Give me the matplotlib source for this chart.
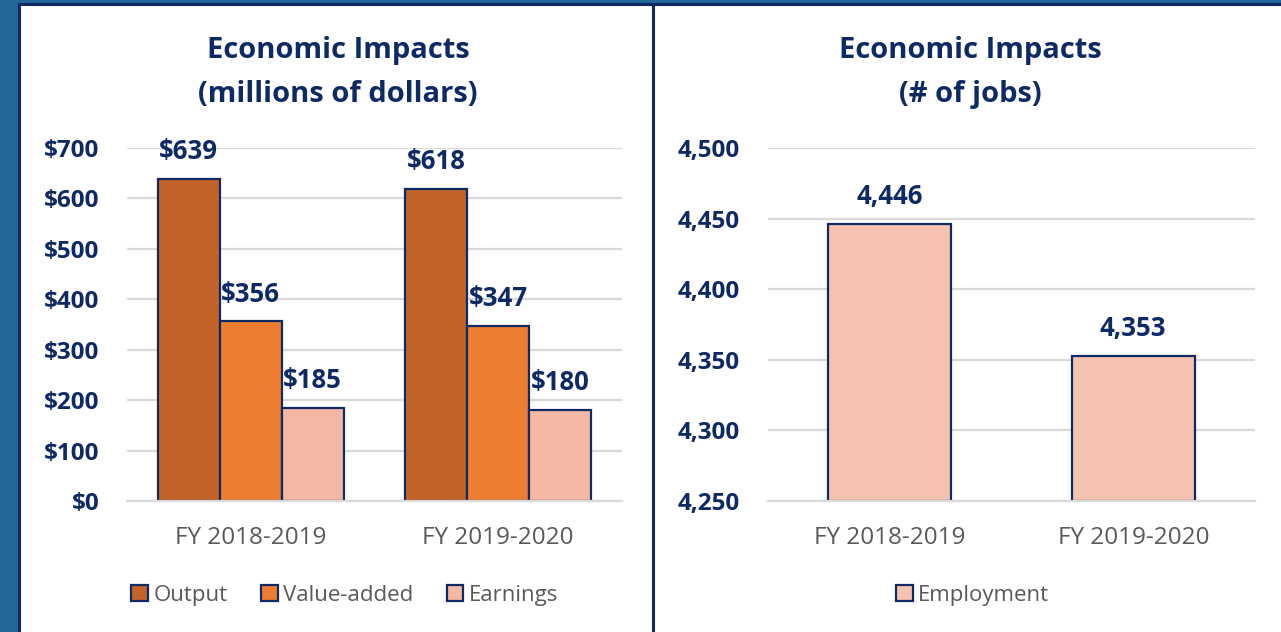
import numpy as np
import matplotlib.pyplot as plt
from matplotlib.patches import Rectangle
from matplotlib.lines import Line2D

plt.rcParams['font.family'] = ['Open Sans', 'DejaVu Sans']

# ---- data ----
years = ['FY 2018-2019', 'FY 2019-2020']
output = [639, 618]
value_added = [356, 347]
earnings = [185, 180]
employment = [4446, 4353]

navy = '#0E2A64'
grid_gray = '#D9D9D9'
text_gray = '#595959'
c_output = '#C3632A'
c_value = '#ED7D31'
c_earn = '#F4B7A3'
c_emp = '#F5C2B0'

W, H = 1281, 632
fig = plt.figure(figsize=(W / 100, H / 100), dpi=100)
fig.patch.set_facecolor('#22679A')

# white panels with navy frame
fig.patches.append(Rectangle((19 / W, 0), 1 - 19 / W, 1 - 4 / H, transform=fig.transFigure,
                             facecolor='white', edgecolor='none', zorder=-10))
for xs, ys in [([19 / W, 1], [1 - 4 / H, 1 - 4 / H]),
               ([19 / W, 19 / W], [0, 1 - 4 / H]),
               ([653 / W, 653 / W], [0, 1 - 4 / H])]:
    fig.lines.append(Line2D(xs, ys, transform=fig.transFigure, color=navy, lw=2.2, zorder=-5))


def style_axis(ax):
    ax.set_zorder(1)
    ax.patch.set_alpha(0)
    for s in ['top', 'right', 'left']:
        ax.spines[s].set_visible(False)
    ax.spines['bottom'].set_color(grid_gray)
    ax.spines['bottom'].set_linewidth(1.6)
    ax.grid(axis='y', color=grid_gray, lw=1.6)
    ax.set_axisbelow(True)
    ax.tick_params(axis='both', length=0)
    ax.tick_params(axis='y', labelsize=17.5, labelcolor=navy, pad=20)
    ax.tick_params(axis='x', labelsize=17.5, labelcolor=text_gray, pad=18)
    for lab in ax.get_yticklabels():
        lab.set_fontweight('bold')
    ax.set_xlim(-0.5, 1.5)
    ax.set_xticks(range(len(years)))
    ax.set_xticklabels(years)


def label_bars(ax, bars, fmt):
    for b in bars:
        h = b.get_height() + b.get_y()
        ax.annotate(fmt(h), (b.get_x() + b.get_width() / 2, h),
                    xytext=(0, 10), textcoords='offset points', ha='center', va='bottom',
                    fontsize=18.5, fontweight='bold', color=navy)


legend_kw = dict(loc='center', frameon=False, fontsize=16, labelcolor=text_gray,
                 handlelength=0.75, handleheight=0.75, handletextpad=0.25)

# ====================== LEFT: dollars ======================
ax1 = fig.add_axes([127 / W, 1 - 501 / H, 495 / W, 353 / H])
x = np.arange(len(years))
w = 0.25
b1 = ax1.bar(x - w, output, w, color=c_output, edgecolor=navy, lw=1.6, label='Output')
b2 = ax1.bar(x, value_added, w, color=c_value, edgecolor=navy, lw=1.6, label='Value-added')
b3 = ax1.bar(x + w, earnings, w, color=c_earn, edgecolor=navy, lw=1.6, label='Earnings')
ax1.set_ylim(0, 700)
ax1.set_yticks(range(0, 701, 100))
ax1.set_yticklabels([f'${v}' for v in range(0, 701, 100)])
style_axis(ax1)
for bars in (b1, b2, b3):
    label_bars(ax1, bars, lambda v: f'${v:.0f}')
ax1.legend(bbox_to_anchor=(0.44, -0.268), ncol=3, columnspacing=1.5, **legend_kw)

# ====================== RIGHT: jobs ======================
ax2 = fig.add_axes([768 / W, 1 - 501 / H, 487 / W, 353 / H])
b4 = ax2.bar(x, [e - 4250 for e in employment], 0.505, bottom=4250, color=c_emp,
             edgecolor=navy, lw=1.6, label='Employment')
ax2.set_ylim(4250, 4500)
ax2.set_yticks(range(4250, 4501, 50))
ax2.set_yticklabels([f'{v:,}' for v in range(4250, 4501, 50)])
style_axis(ax2)
label_bars(ax2, b4, lambda v: f'{v:,.0f}')
ax2.legend(bbox_to_anchor=(0.42, -0.268), **legend_kw)

# titles
fig.text(338 / W, 1 - 72.5 / H, 'Economic Impacts\n(millions of dollars)', ha='center', va='center',
         fontsize=21, fontweight='bold', color=navy, linespacing=1.7)
fig.text(970 / W, 1 - 72.5 / H, 'Economic Impacts\n(# of jobs)', ha='center', va='center',
         fontsize=21, fontweight='bold', color=navy, linespacing=1.7)

fig.savefig('out.png', dpi=100, facecolor=fig.get_facecolor())
